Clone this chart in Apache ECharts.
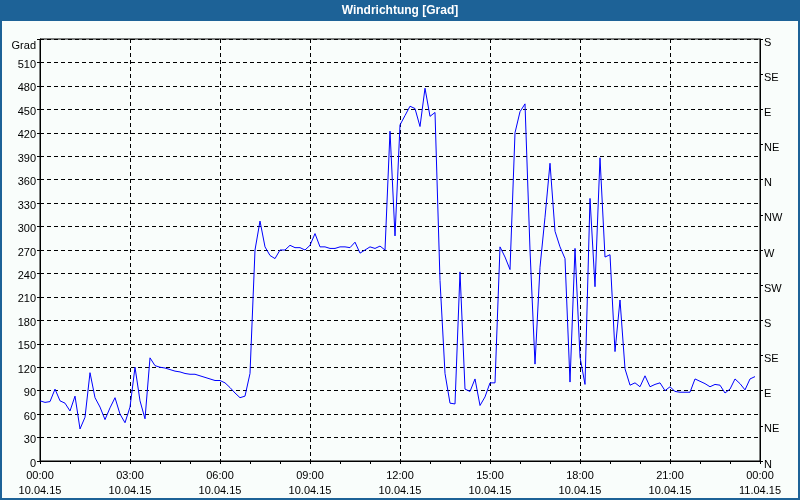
<!DOCTYPE html>
<html>
<head>
<meta charset="utf-8">
<script src="https://cdn.jsdelivr.net/npm/echarts@6/dist/echarts.min.js"></script>
<style>
html,body{margin:0;padding:0;background:#1D6297;}
#chart{width:800px;height:500px;}
</style>
</head>
<body>
<div id="chart"></div>
<script>
// Wind direction in degrees, sampled every 10 minutes from 10.04.15 00:00
const values = [
  77,75,76,92,77,74,64,83,41,56,113,81,69,53,68,81,60,49,
  69,120,77,54,132,122,120,119,117,115,114,112,111,111,109,107,105,103,
  103,100,94,87,81,83,112,270,307,274,263,259,270,270,276,273,273,270,
  276,291,274,274,272,272,274,274,273,280,266,270,274,272,275,270,422,288,
  430,442,454,451,428,477,441,446,231,112,74,73,242,92,89,105,71,82,
  100,100,274,261,245,420,447,457,270,124,248,312,381,294,274,259,101,272,
  133,98,336,223,388,261,264,140,206,118,97,100,95,109,95,98,100,90,
  95,89,88,88,88,105,102,99,95,98,97,87,92,105,99,91,105,108
];
const sampleMinutes = 10;
const times = values.map((_, i) => i * sampleMinutes);

const xTickLabels = [
  '00:00\n10.04.15','03:00\n10.04.15','06:00\n10.04.15','09:00\n10.04.15',
  '12:00\n10.04.15','15:00\n10.04.15','18:00\n10.04.15','21:00\n10.04.15',
  '00:00\n11.04.15'
];
const dirLabels = ['N','NE','E','SE','S','SW','W','NW','N','NE','E','SE','S'];

const FONT = 'Liberation Sans';
const chart = echarts.init(document.getElementById('chart'));
const dashed = {color:'#000', width:1, type:[4,3]};
const labelStyle = {color:'#000', fontFamily:FONT, fontSize:11};

chart.setOption({
  backgroundColor:'#1D6297',
  animation:false,
  graphic:[{type:'rect', z:-10, silent:true, shape:{x:2,y:21,width:796,height:477}, style:{fill:'#F9FDFB'}}],
  title:{
    text:'Windrichtung [Grad]', left:'center', top:4, padding:0,
    textStyle:{color:'#fff', fontFamily:FONT, fontSize:12, fontWeight:'bold', lineHeight:13}
  },
  grid:{left:40, right:40, top:39, bottom:39, show:true, borderColor:'#000', borderWidth:1, backgroundColor:'transparent'},
  xAxis:{
    type:'value', min:0, max:1440, interval:180,
    axisLine:{show:true, lineStyle:{color:'#000'}},
    axisTick:{show:true, inside:false, length:3, lineStyle:{color:'#000'}},
    minorTick:{show:true, splitNumber:3, length:3, lineStyle:{color:'#000'}},
    splitLine:{show:true, lineStyle:dashed},
    axisLabel:Object.assign({margin:7, lineHeight:15, formatter:v => xTickLabels[Math.round(v/180)], showMinLabel:true, showMaxLabel:true}, labelStyle)
  },
  yAxis:[{
    type:'value', min:0, max:540, interval:30, position:'left',
    name:'Grad', nameLocation:'end', nameGap:-7,
    nameTextStyle:Object.assign({align:'right', verticalAlign:'middle', padding:[2,4,0,0]}, labelStyle),
    axisLine:{show:true, lineStyle:{color:'#000'}},
    axisTick:{show:true, inside:false, length:3, lineStyle:{color:'#000'}},
    splitLine:{show:true, lineStyle:dashed},
    axisLabel:Object.assign({margin:4, verticalAlign:'top', lineHeight:5, formatter:v => v >= 540 ? '' : String(v)}, labelStyle)
  },{
    type:'value', min:0, max:540, interval:45, position:'right',
    axisLine:{show:true, lineStyle:{color:'#000'}},
    axisTick:{show:true, inside:false, length:3, lineStyle:{color:'#000'}},
    splitLine:{show:false},
    axisLabel:Object.assign({margin:4, verticalAlign:'top', lineHeight:7, formatter:v => dirLabels[Math.round(v/45)]}, labelStyle)
  }],
  series:[{
    type:'line', yAxisIndex:0, showSymbol:false, smooth:false,
    lineStyle:{color:'#0000FF', width:1},
    itemStyle:{color:'#0000FF'},
    data:times.map((t,i)=>[t, values[i]])
  }]
});
</script>
</body>
</html>
